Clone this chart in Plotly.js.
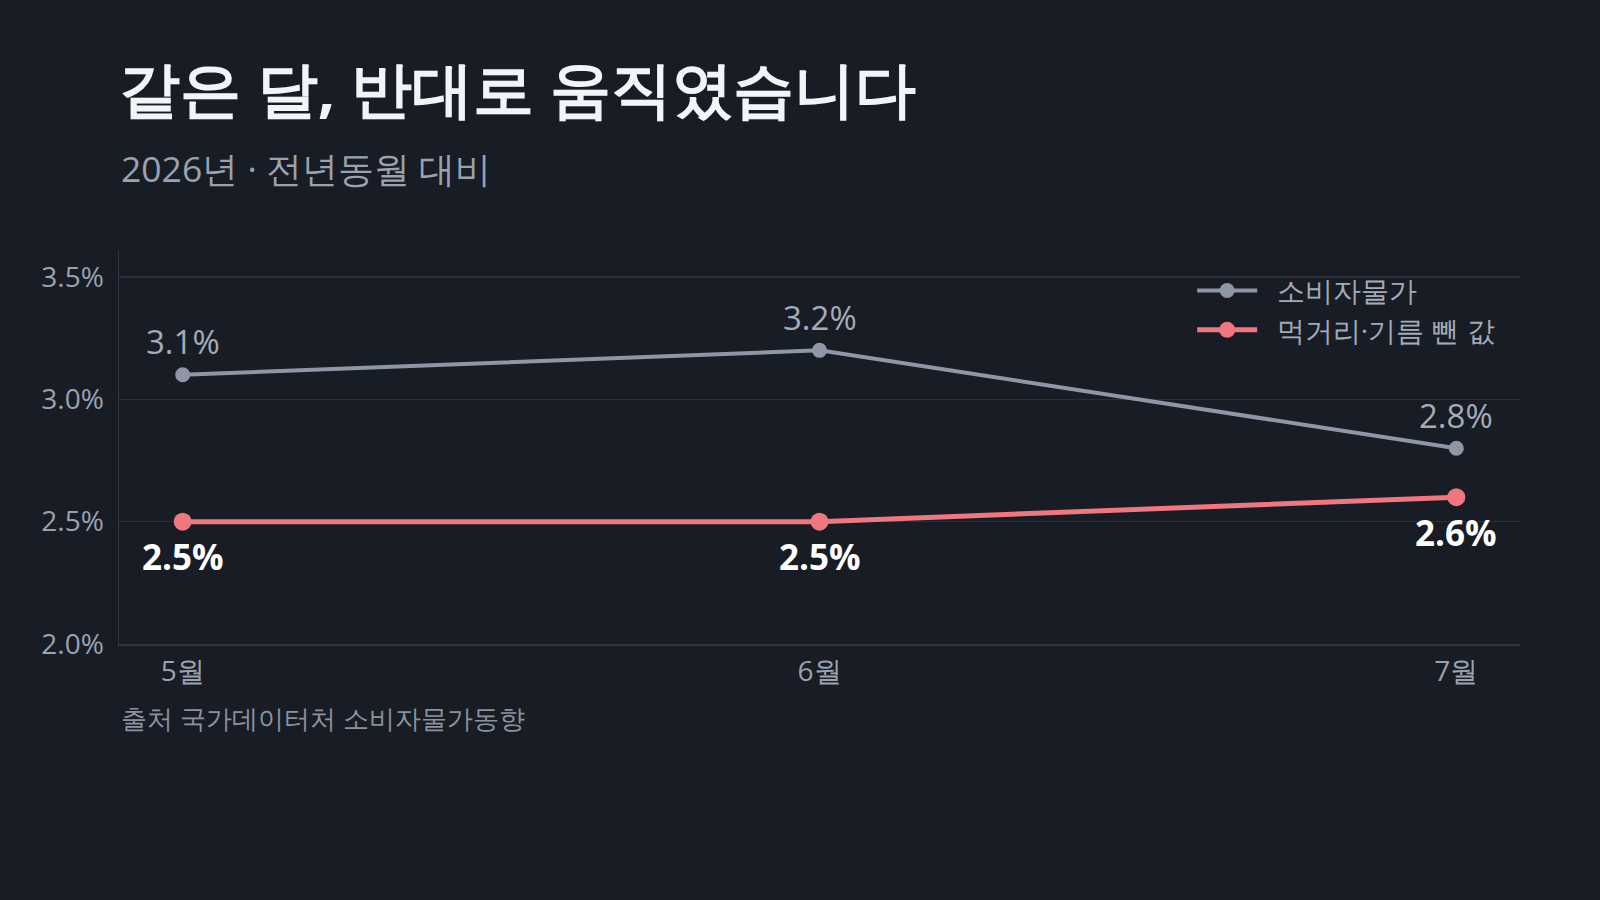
<!DOCTYPE html>
<html>
<head>
<meta charset="utf-8">
<script src="https://cdn.plot.ly/plotly-3.0.1.min.js"></script>
<style>
  html, body { margin: 0; padding: 0; background: #181c25; }
  #chart { width: 1600px; height: 900px; }
</style>
</head>
<body>
<div id="chart"></div>
<script>
var months = ["5월", "6월", "7월"];
var cpi = [3.1, 3.2, 2.8];
var coreCpi = [2.5, 2.5, 2.6];
var seriesNames = ["소비자물가", "먹거리·기름 뺀 값"];
var yTicks = [2.0, 2.5, 3.0, 3.5];
var yTickText = ["2.0%", "2.5%", "3.0%", "3.5%"];

var FONT = "'Open Sans', sans-serif";
var GRAY = "#8e97a5";
var RED = "#f07680";

function pct(v) { return v.toFixed(1) + "%"; }

var data = [
  {
    x: months,
    y: cpi,
    name: "\u00a0\u00a0" + seriesNames[0],
    mode: "lines+markers",
    type: "scatter",
    line: { color: GRAY, width: 4 },
    marker: { color: GRAY, size: 15 },
    hoverinfo: "skip"
  },
  {
    x: months,
    y: coreCpi,
    name: "\u00a0\u00a0" + seriesNames[1],
    mode: "lines+markers",
    type: "scatter",
    line: { color: RED, width: 5 },
    marker: { color: RED, size: 18 },
    hoverinfo: "skip"
  }
];

// value labels from the series arrays
var labels = [];
months.forEach(function (m, i) {
  labels.push({
    x: m, y: cpi[i], xref: "x", yref: "y",
    text: pct(cpi[i]), showarrow: false, yshift: 33,
    font: { family: FONT, size: 33, color: "#a3abb8" }
  });
  labels.push({
    x: m, y: coreCpi[i], xref: "x", yref: "y",
    text: "<b>" + pct(coreCpi[i]) + "</b>", showarrow: false, yshift: -35,
    font: { family: FONT, size: 35, color: "#ffffff" }
  });
});

var layout = {
  width: 1600,
  height: 900,
  paper_bgcolor: "#181c25",
  plot_bgcolor: "#181c25",
  font: { family: FONT, color: "#9aa2af" },
  margin: { l: 119, r: 80, t: 250, b: 256 },
  showlegend: true,
  legend: {
    x: 0.766, y: 0.96, xanchor: "left", yanchor: "top",
    bgcolor: "rgba(0,0,0,0)",
    font: { family: FONT, size: 28, color: "#a3abb8" },
    tracegroupgap: 4,
    itemwidth: 60
  },
  title: {
    text: "<b>같은 달, 반대로 움직였습니다</b>",
    x: 0, xref: "paper", xanchor: "left",
    y: 0.9, yref: "container", yanchor: "middle",
    font: { family: FONT, size: 61, color: "#f2f4f8" }
  },
  annotations: [
    {
      text: "2026년 · 전년동월 대비",
      xref: "paper", yref: "paper", x: 0, y: 1.0 + 82 / 394,
      xanchor: "left", yanchor: "middle", showarrow: false,
      font: { family: FONT, size: 35.5, color: "#9aa2af" }
    },
    {
      text: "출처 국가데이터처 소비자물가동향",
      xref: "paper", yref: "paper", x: 0, y: -74 / 394,
      xanchor: "left", yanchor: "middle", showarrow: false,
      font: { family: FONT, size: 26, color: "#8a92a0" }
    }
  ].concat(labels),
  xaxis: {
    type: "category",
    range: [-0.1, 2.1],
    showgrid: false,
    showline: true,
    linecolor: "#2e3440",
    linewidth: 1.5,
    ticks: "",
    ticklabelstandoff: 2,
    tickfont: { family: FONT, size: 28, color: "#9aa2af" },
    zeroline: false
  },
  yaxis: {
    range: [2.0, 3.61],
    tickvals: yTicks,
    ticktext: yTickText,
    showgrid: true,
    gridcolor: "#2a2f3a",
    gridwidth: 1.5,
    showline: true,
    linecolor: "#2e3440",
    linewidth: 1.5,
    ticks: "",
    ticklabelstandoff: 8,
    tickfont: { family: FONT, size: 28, color: "#9aa2af" },
    zeroline: false
  }
};

Plotly.newPlot("chart", data, layout, { staticPlot: true });
</script>
</body>
</html>
